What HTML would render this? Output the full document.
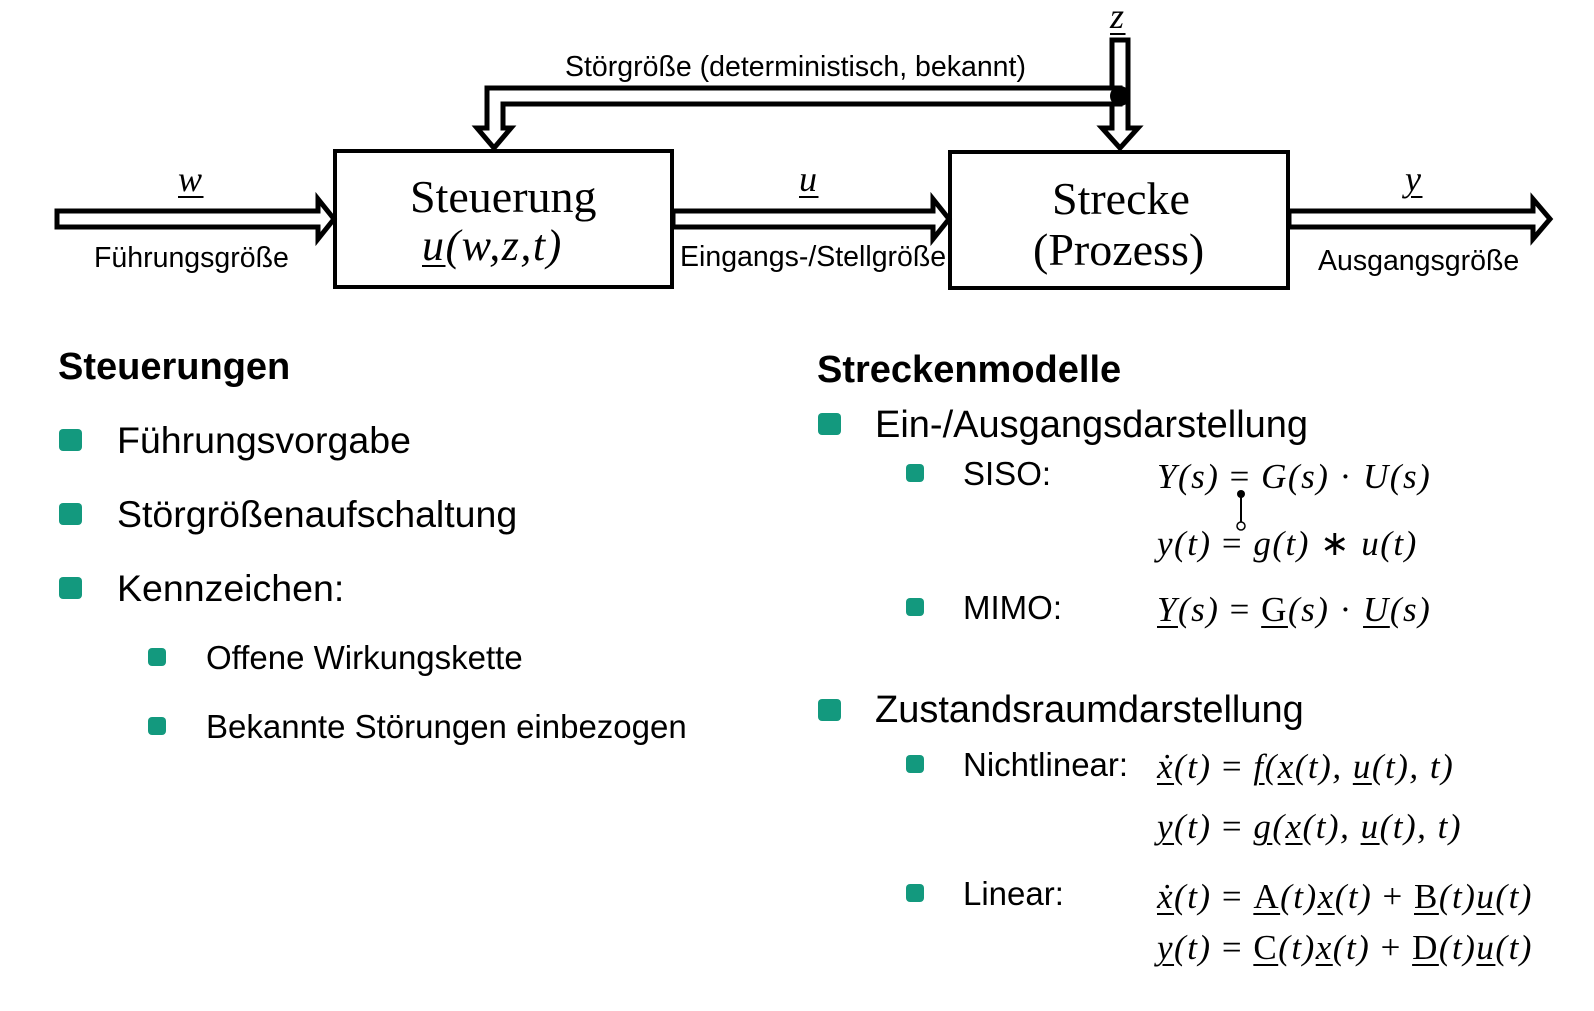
<!DOCTYPE html>
<html><head><meta charset="utf-8"><style>
body{margin:0;width:1594px;height:1011px;background:#fff;position:relative;overflow:hidden;font-family:"Liberation Sans",sans-serif;color:#000}
.t{position:absolute;line-height:1;white-space:nowrap}
.m{font-family:"Liberation Serif",serif;font-style:italic;letter-spacing:1.5px}
.b{position:absolute;background:#13997e;border-radius:4px}
.u{text-decoration:underline;text-decoration-thickness:2px;text-underline-offset:5px}
.r{font-style:normal}
</style></head><body>
<svg width="1594" height="1011" style="position:absolute;left:0;top:0">
<g fill="#fff" stroke="#000" stroke-width="5" stroke-linejoin="miter">
<polygon points="57,211 318,211 318,199 334,219 318,239 318,227 57,227"/>
<polygon points="673,211 933,211 933,199 949,219 933,239 933,227 673,227"/>
<polygon points="1289,211 1533,211 1533,199 1550,219 1533,239 1533,227 1289,227"/>
<polygon points="1112,40 1128,40 1128,128 1138,128 1120,148 1102,128 1112,128"/>
<polygon points="1120,88 487,88 487,128 477,128 494,148 511,128 503,128 503,104 1120,104"/>
</g>
<circle cx="1120" cy="96" r="10" fill="#000"/>
<rect x="335" y="151" width="337" height="136" fill="none" stroke="#000" stroke-width="4"/>
<rect x="950" y="152" width="338" height="136" fill="none" stroke="#000" stroke-width="4"/>
<line x1="1241" y1="494" x2="1241" y2="522" stroke="#000" stroke-width="2"/>
<circle cx="1241" cy="494" r="4" fill="#000"/>
<circle cx="1241" cy="526" r="4" fill="#fff" stroke="#000" stroke-width="1.5"/>
</svg>
<div class="t m u" style="left:1110px;top:-2px;font-size:36px">z</div>
<div class="t" style="left:565px;top:53px;font-size:28.5px">Störgröße (deterministisch, bekannt)</div>
<div class="t m u" style="left:178px;top:161px;font-size:36px">w</div>
<div class="t" style="left:94px;top:244px;font-size:28.5px">Führungsgröße</div>
<div class="t m u" style="left:799px;top:161px;font-size:36px">u</div>
<div class="t" style="left:680px;top:243px;font-size:28.5px">Eingangs-/Stellgröße</div>
<div class="t m u" style="left:1405px;top:161px;font-size:36px">y</div>
<div class="t" style="left:1318px;top:247px;font-size:28.5px">Ausgangsgröße</div>
<div class="t" style="left:410px;top:174px;font-size:46px;font-family:'Liberation Serif',serif">Steuerung</div>
<div class="t m" style="left:422px;top:224px;font-size:44px"><span class="u">u</span>(w,z,t)</div>
<div class="t" style="left:1052px;top:176px;font-size:46px;font-family:'Liberation Serif',serif">Strecke</div>
<div class="t" style="left:1033px;top:227px;font-size:46px;font-family:'Liberation Serif',serif">(Prozess)</div>

<div class="t" style="left:58px;top:348px;font-size:38px;font-weight:bold">Steuerungen</div>
<div class="b" style="left:59px;top:429px;width:23px;height:22px"></div>
<div class="t" style="left:117px;top:422px;font-size:37.5px">Führungsvorgabe</div>
<div class="b" style="left:59px;top:503px;width:23px;height:22px"></div>
<div class="t" style="left:117px;top:496px;font-size:37.5px">Störgrößenaufschaltung</div>
<div class="b" style="left:59px;top:577px;width:23px;height:22px"></div>
<div class="t" style="left:117px;top:570px;font-size:37.5px">Kennzeichen:</div>
<div class="b" style="left:148px;top:648px;width:18px;height:18px"></div>
<div class="t" style="left:206px;top:641px;font-size:33px">Offene Wirkungskette</div>
<div class="b" style="left:148px;top:717px;width:18px;height:18px"></div>
<div class="t" style="left:206px;top:710px;font-size:33px">Bekannte Störungen einbezogen</div>

<div class="t" style="left:817px;top:351px;font-size:38px;font-weight:bold">Streckenmodelle</div>
<div class="b" style="left:818px;top:413px;width:23px;height:22px"></div>
<div class="t" style="left:875px;top:406px;font-size:38px">Ein-/Ausgangsdarstellung</div>
<div class="b" style="left:906px;top:464px;width:18px;height:18px"></div>
<div class="t" style="left:963px;top:457px;font-size:33px">SISO:</div>
<div class="t m" style="left:1157px;top:459px;font-size:35px">Y(s) <span class="r">=</span> G(s) <span class="r">·</span> U(s)</div>
<div class="t m" style="left:1157px;top:526px;font-size:35px">y(t) <span class="r">=</span> g(t) <span class="r">∗</span> u(t)</div>
<div class="b" style="left:906px;top:598px;width:18px;height:18px"></div>
<div class="t" style="left:963px;top:591px;font-size:33px">MIMO:</div>
<div class="t m" style="left:1157px;top:592px;font-size:35px"><span class="u">Y</span>(s) <span class="r">=</span> <span class="u r">G</span>(s) <span class="r">·</span> <span class="u">U</span>(s)</div>
<div class="b" style="left:818px;top:699px;width:23px;height:22px"></div>
<div class="t" style="left:875px;top:691px;font-size:38px">Zustandsraumdarstellung</div>
<div class="b" style="left:906px;top:755px;width:18px;height:18px"></div>
<div class="t" style="left:963px;top:748px;font-size:33px">Nichtlinear:</div>
<div class="t m" style="left:1157px;top:749px;font-size:35px"><span class="u">ẋ</span>(t) <span class="r">=</span> <span class="u">f</span>(<span class="u">x</span>(t), <span class="u">u</span>(t), t)</div>
<div class="t m" style="left:1157px;top:809px;font-size:35px"><span class="u">y</span>(t) <span class="r">=</span> <span class="u">g</span>(<span class="u">x</span>(t), <span class="u">u</span>(t), t)</div>
<div class="b" style="left:906px;top:884px;width:18px;height:18px"></div>
<div class="t" style="left:963px;top:877px;font-size:33px">Linear:</div>
<div class="t m" style="left:1157px;top:879px;font-size:35px"><span class="u">ẋ</span>(t) <span class="r">=</span> <span class="u r">A</span>(t)<span class="u">x</span>(t) <span class="r">+</span> <span class="u r">B</span>(t)<span class="u">u</span>(t)</div>
<div class="t m" style="left:1157px;top:930px;font-size:35px"><span class="u">y</span>(t) <span class="r">=</span> <span class="u r">C</span>(t)<span class="u">x</span>(t) <span class="r">+</span> <span class="u r">D</span>(t)<span class="u">u</span>(t)</div>
</body></html>
